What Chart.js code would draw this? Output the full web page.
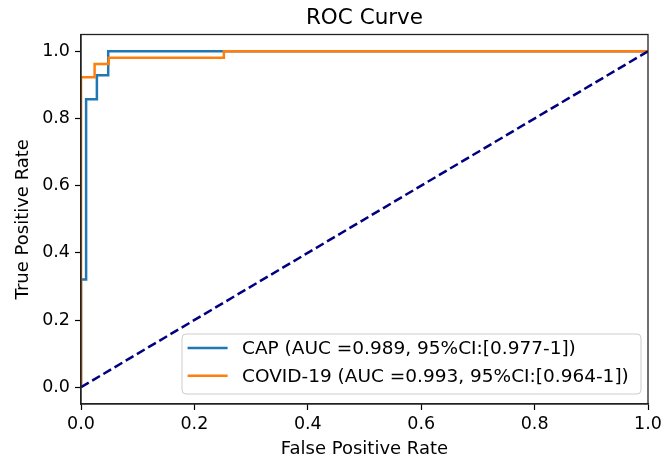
<!DOCTYPE html>
<html>
<head>
<meta charset="utf-8">
<script src="https://cdn.jsdelivr.net/npm/chart.js@4"></script>
<style>
  body { margin: 0; background: #fff; }
  #wrap { width: 662px; height: 461px; }
</style>
</head>
<body>
<div id="wrap"><canvas id="roc" width="662" height="461"></canvas></div>
<script>
// ROC points
const capFpr = [0, 0, 0.009, 0.009, 0.028, 0.028, 0.048, 0.048, 1];
const capTpr = [0, 0.321, 0.321, 0.857, 0.857, 0.929, 0.929, 1, 1];
const covidFpr = [0, 0, 0.024, 0.024, 0.049, 0.049, 0.252, 0.252, 1];
const covidTpr = [0, 0.923, 0.923, 0.962, 0.962, 0.981, 0.981, 1, 1];
const chanceFpr = [0, 1];
const chanceTpr = [0, 1];
const seriesLabels = ['CAP (AUC =0.989, 95%CI:[0.977-1])', 'COVID-19 (AUC =0.993, 95%CI:[0.964-1])'];
const tickValues = [0, 0.2, 0.4, 0.6, 0.8, 1.0];
const chartTitle = 'ROC Curve';

const FONT = 'DejaVu Sans';

function toPoints(xs, ys) {
    return xs.map((x, i) => ({ x: x, y: ys[i] }));
}

// matplotlib-ish frame around the plot area
const framePlugin = {
    id: 'frame',
    afterDatasetsDraw(chart) {
        const a = chart.chartArea;
        const ctx = chart.ctx;
        ctx.save();
        ctx.strokeStyle = '#222';
        ctx.lineWidth = 1.3;
        ctx.strokeRect(a.left, a.top, a.right - a.left, a.bottom - a.top);
        ctx.restore();
    }
};

// title centred over the plot area, not the whole canvas
const areaTitle = {
    id: 'areaTitle',
    afterDraw(chart) {
        const ctx = chart.ctx;
        const a = chart.chartArea;
        ctx.save();
        ctx.font = '21.5px "' + FONT + '"';
        ctx.fillStyle = '#000';
        ctx.textAlign = 'center';
        ctx.textBaseline = 'alphabetic';
        ctx.fillText(chartTitle, (a.left + a.right) / 2, 23.5);
        ctx.restore();
    }
};

// legend box in the lower right corner
const boxLegend = {
    id: 'boxLegend',
    afterDraw(chart) {
        const ctx = chart.ctx;
        const a = chart.chartArea;
        const items = chart.data.datasets.filter(d => !d.hideInLegend);
        const w = 459, rowH = 27.7, h = 60;
        const x = a.right - 7 - w, y = a.bottom - 10 - h;
        ctx.save();
        ctx.fillStyle = 'rgba(255,255,255,0.8)';
        ctx.strokeStyle = '#cccccc';
        ctx.lineWidth = 1;
        ctx.beginPath();
        ctx.roundRect(x, y, w, h, 4);
        ctx.fill();
        ctx.stroke();
        ctx.font = '18.5px "' + FONT + '"';
        ctx.textBaseline = 'middle';
        items.forEach((d, i) => {
            const cy = y + 14 + i * rowH;
            ctx.strokeStyle = d.borderColor;
            ctx.lineWidth = 2.5;
            ctx.beginPath();
            ctx.moveTo(x + 5.6, cy);
            ctx.lineTo(x + 45.6, cy);
            ctx.stroke();
            ctx.fillStyle = '#000';
            ctx.fillText(d.label, x + 60, cy + 1);
        });
        ctx.restore();
    }
};

const fixedTicks = scale => { scale.ticks = tickValues.map(v => ({ value: v })); };

new Chart(document.getElementById('roc'), {
    type: 'scatter',
    data: {
        datasets: [
            {
                label: seriesLabels[0],
                data: toPoints(capFpr, capTpr),
                showLine: true,
                borderColor: '#1f77b4',
                borderWidth: 2.5,
                pointRadius: 0,
                order: 2
            },
            {
                label: seriesLabels[1],
                data: toPoints(covidFpr, covidTpr),
                showLine: true,
                borderColor: '#ff7f0e',
                borderWidth: 2.5,
                pointRadius: 0,
                order: 1
            },
            {
                label: 'chance',
                data: toPoints(chanceFpr, chanceTpr),
                showLine: true,
                borderColor: '#000080',
                borderWidth: 2.5,
                borderDash: [9, 4],
                pointRadius: 0,
                hideInLegend: true,
                order: 0
            }
        ]
    },
    options: {
        responsive: false,
        animation: false,
        layout: { padding: { left: 0, right: 14, top: 34.5, bottom: 0 } },
        plugins: {
            legend: { display: false },
            tooltip: { enabled: false },
            title: { display: false }
        },
        scales: {
            x: {
                type: 'linear',
                min: 0,
                max: 1,
                afterBuildTicks: fixedTicks,
                afterFit: scale => {
                    scale.height = 57;
                    scale.paddingLeft = 0;
                    scale.paddingRight = 0;
                },
                grid: { drawOnChartArea: false, color: '#000', tickLength: 6, tickWidth: 1.2 },
                border: { color: '#222', width: 1.3 },
                ticks: {
                    color: '#000',
                    font: { family: FONT, size: 17.5 },
                    padding: 4,
                    maxRotation: 0,
                    callback: v => v.toFixed(1)
                },
                title: {
                    display: true,
                    text: 'False Positive Rate',
                    color: '#000',
                    font: { family: FONT, size: 18 },
                    padding: { top: 0, bottom: 1 }
                }
            },
            y: {
                type: 'linear',
                min: -0.05,
                max: 1.05,
                afterBuildTicks: fixedTicks,
                afterFit: scale => {
                    scale.width = 81;
                    scale.paddingTop = 0;
                    scale.paddingBottom = 0;
                },
                grid: { drawOnChartArea: false, color: '#000', tickLength: 6, tickWidth: 1.2 },
                border: { color: '#222', width: 1.3 },
                ticks: {
                    color: '#000',
                    font: { family: FONT, size: 17.5 },
                    padding: 5,
                    callback: v => v.toFixed(1)
                },
                title: {
                    display: true,
                    text: 'True Positive Rate',
                    color: '#000',
                    font: { family: FONT, size: 18 },
                    padding: { top: 13, bottom: 0 }
                }
            }
        }
    },
    plugins: [framePlugin, areaTitle, boxLegend]
});
</script>
</body>
</html>
